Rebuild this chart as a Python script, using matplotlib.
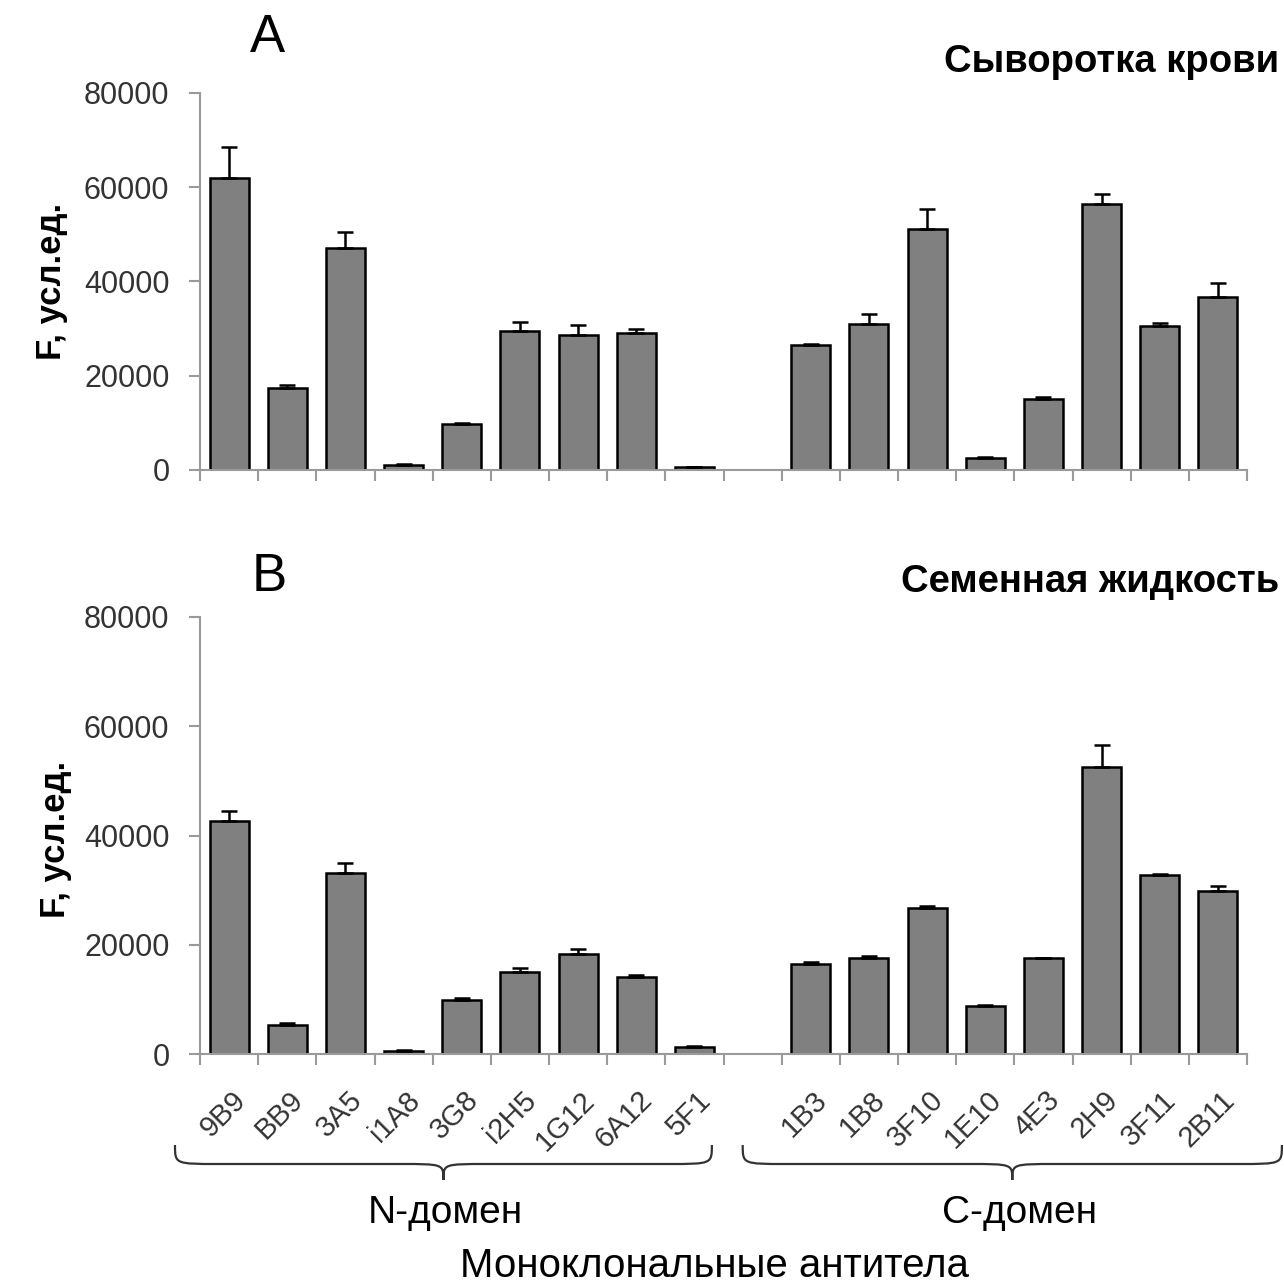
import numpy as np
import matplotlib.pyplot as plt
import matplotlib.transforms as mtransforms
from matplotlib.path import Path
from matplotlib.patches import PathPatch

plt.rcParams['font.family'] = ['Liberation Sans', 'DejaVu Sans']

# antibodies
n_labels = ['9B9', 'BB9', '3A5', 'i1A8', '3G8', 'i2H5', '1G12', '6A12', '5F1']
c_labels = ['1B3', '1B8', '3F10', '1E10', '4E3', '2H9', '3F11', '2B11']

# A: blood serum
serum_n = [61900, 17300, 47200, 1000, 9700, 29400, 28600, 29000, 600]
serum_n_err = [6700, 700, 3400, 200, 350, 2100, 2100, 900, 100]
serum_c = [26500, 31000, 51200, 2600, 15000, 56500, 30600, 36700]
serum_c_err = [150, 2200, 4100, 100, 500, 2100, 500, 3000]

# B: seminal fluid
semen_n = [42700, 5300, 33100, 600, 9800, 15100, 18300, 14100, 1300]
semen_n_err = [1800, 300, 1800, 100, 400, 700, 1000, 400, 200]
semen_c = [16500, 17600, 26800, 8700, 17600, 52600, 32700, 29900]
semen_c_err = [400, 400, 350, 300, 0, 4000, 300, 800]

x_n = np.arange(len(n_labels))
x_c = np.arange(len(c_labels)) + len(n_labels) + 1
n_slots = len(n_labels) + len(c_labels) + 1

W, H = 1284, 1286
fig = plt.figure(figsize=(W / 100, H / 100), dpi=100)

ax1 = fig.add_axes([200 / W, 1 - 470 / H, 1047 / W, 377 / H])
ax2 = fig.add_axes([200 / W, 1 - 1054 / H, 1047 / W, 437 / H])

grey = '#9a9a9a'


def draw_panel(ax, vals_n, err_n, vals_c, err_c):
    for x, v, e in ((x_n, vals_n, err_n), (x_c, vals_c, err_c)):
        ax.bar(x, v, width=0.67, color='#808080', edgecolor='black', linewidth=1.8, zorder=2)
        # only the upper half of the error bar, as in Excel
        ax.errorbar(x, v, yerr=[np.zeros(len(e)), e], fmt='none', ecolor='black',
                    elinewidth=1.8, capsize=6, capthick=1.8, zorder=3)
    ax.set_xlim(-0.5, n_slots - 0.5)
    ax.set_ylim(0, 80000)
    ax.set_yticks(np.arange(0, 80001, 20000))
    ax.set_xticks(np.arange(-0.5, n_slots, 1.0), minor=True)
    for s in ('top', 'right'):
        ax.spines[s].set_visible(False)
    for s in ('left', 'bottom'):
        ax.spines[s].set_color(grey)
        ax.spines[s].set_linewidth(1.5)
    ax.tick_params(axis='y', direction='out', length=8, width=1.5, color=grey,
                   labelsize=22, labelcolor='#333333', pad=14)
    ax.tick_params(axis='x', which='minor', direction='out', length=8, width=1.5, color=grey)
    ax.tick_params(axis='x', which='major', length=0)


draw_panel(ax1, serum_n, serum_n_err, serum_c, serum_c_err)
draw_panel(ax2, semen_n, semen_n_err, semen_c, semen_c_err)

ax1.set_xticks([])
ax2.set_xticks(np.concatenate([x_n, x_c]))
ax2.set_xticklabels(n_labels + c_labels, rotation=45, ha='right', va='center',
                    rotation_mode='anchor', fontsize=21, color='#333333')
ax2.tick_params(axis='x', which='major', pad=30)
offset = mtransforms.ScaledTranslation(12 / 100, 0, fig.dpi_scale_trans)
for lab in ax2.get_xticklabels():
    lab.set_transform(lab.get_transform() + offset)

# y labels, panel letters, titles
fig.text(52 / W, 1 - 281 / H, 'F, усл.ед.', rotation=90, fontsize=25, fontweight='bold',
         ha='center', va='center')
fig.text(55 / W, 1 - 839 / H, 'F, усл.ед.', rotation=90, fontsize=25, fontweight='bold',
         ha='center', va='center')
fig.text(267 / W, 1 - 38 / H, 'A', fontsize=38, ha='center', va='center')
fig.text(269 / W, 1 - 577 / H, 'B', fontsize=38, ha='center', va='center')
fig.text(1279 / W, 1 - 62 / H, 'Сыворотка крови', fontsize=27.5, fontweight='bold',
         ha='right', va='center')
fig.text(1279 / W, 1 - 582 / H, 'Семенная жидкость', fontsize=27.5, fontweight='bold',
         ha='right', va='center')


def brace(ax, x0, x1, y_top, y_mid, y_tip, r=0.75):
    xm = (x0 + x1) / 2
    verts = [(x0, y_top), (x0, y_mid), (x0, y_mid), (x0 + r, y_mid),
             (xm - r, y_mid),
             (xm, y_mid), (xm, y_mid), (xm, y_tip),
             (xm, y_mid), (xm, y_mid), (xm + r, y_mid),
             (x1 - r, y_mid),
             (x1, y_mid), (x1, y_mid), (x1, y_top)]
    codes = [Path.MOVETO, Path.CURVE4, Path.CURVE4, Path.CURVE4,
             Path.LINETO,
             Path.CURVE4, Path.CURVE4, Path.CURVE4,
             Path.CURVE4, Path.CURVE4, Path.CURVE4,
             Path.LINETO,
             Path.CURVE4, Path.CURVE4, Path.CURVE4]
    tr = mtransforms.blended_transform_factory(ax.transData, fig.transFigure)
    ax.add_patch(PathPatch(Path(verts, codes), transform=tr, facecolor='none',
                           edgecolor='#333333', linewidth=1.6, clip_on=False))


yt, ym, yp = 1 - 1145 / H, 1 - 1164 / H, 1 - 1180 / H
brace(ax2, -0.93, 8.3, yt, ym, yp)
brace(ax2, 8.83, 18.1, yt, ym, yp)

fig.text(445 / W, 1 - 1213 / H, 'N-домен', fontsize=28, ha='center', va='center')
fig.text(1020 / W, 1 - 1213 / H, 'С-домен', fontsize=28, ha='center', va='center')
fig.text(715 / W, 1 - 1266 / H, 'Моноклональные антитела', fontsize=29,
         ha='center', va='center')

fig.savefig('out.png', dpi=100)
